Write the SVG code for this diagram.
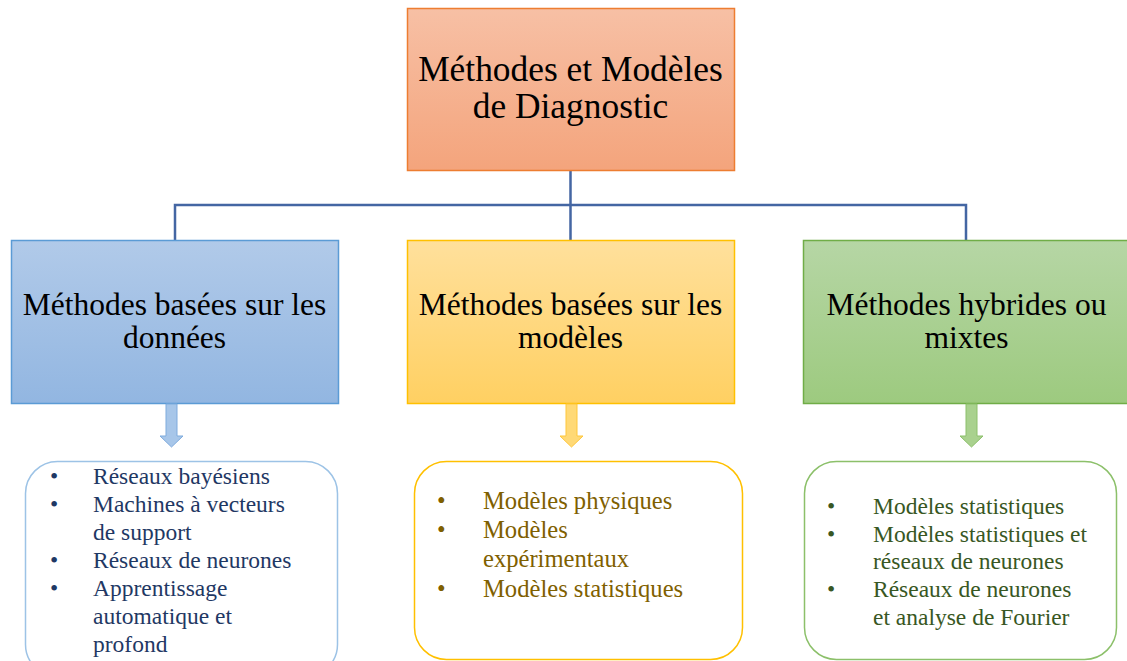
<svg xmlns="http://www.w3.org/2000/svg" width="1127" height="661" viewBox="0 0 1127 661">
<defs>
<linearGradient id="gOr" x1="0" y1="0" x2="0" y2="1"><stop offset="0" stop-color="#f7c0a5"/><stop offset="1" stop-color="#f4a47c"/></linearGradient>
<linearGradient id="gBl" x1="0" y1="0" x2="0" y2="1"><stop offset="0" stop-color="#b1cae9"/><stop offset="1" stop-color="#92b6e1"/></linearGradient>
<linearGradient id="gYe" x1="0" y1="0" x2="0" y2="1"><stop offset="0" stop-color="#ffe09c"/><stop offset="1" stop-color="#ffd062"/></linearGradient>
<linearGradient id="gGr" x1="0" y1="0" x2="0" y2="1"><stop offset="0" stop-color="#b6d6a5"/><stop offset="1" stop-color="#9dca7f"/></linearGradient>
<style>
.t{font-family:"Liberation Serif","Times New Roman",serif;fill:#000;text-anchor:middle}
.h1{font-size:35.4px}
.h2{font-size:31.5px}
.li{font-family:"Liberation Serif","Times New Roman",serif;font-size:23.5px}
.liy{font-family:"Liberation Serif","Times New Roman",serif;font-size:24.6px}
.conn{stroke:#4466a3;stroke-width:2.5;fill:none}
</style>
</defs>
<rect width="1127" height="661" fill="#fff"/>
<g id="connectors">
<path class="conn" d="M570.5,171 V240 M175,240 V205 H966 V240"/>
</g>
<g id="root">
<rect x="407.5" y="8.5" width="327" height="162" fill="url(#gOr)" stroke="#ed7d31" stroke-width="1.5"/>
<text class="t h1" x="570.5" y="81">Méthodes et Modèles</text>
<text class="t h1" x="570.5" y="118">de Diagnostic</text>
</g>
<g id="donnees">
<rect x="11.5" y="240.5" width="327" height="163" fill="url(#gBl)" stroke="#5b9bd5" stroke-width="1.5"/>
<text class="t h2" x="174.5" y="315">Méthodes basées sur les</text>
<text class="t h2" x="174.5" y="348">données</text>
</g>
<g id="modeles">
<rect x="407.5" y="240.5" width="327" height="163" fill="url(#gYe)" stroke="#ffc000" stroke-width="1.5"/>
<text class="t h2" x="570.5" y="315">Méthodes basées sur les</text>
<text class="t h2" x="570.5" y="348">modèles</text>
</g>
<g id="hybrides">
<rect x="803.5" y="240.5" width="330" height="163" fill="url(#gGr)" stroke="#70ad47" stroke-width="1.5"/>
<text class="t h2" x="966.5" y="315">Méthodes hybrides ou</text>
<text class="t h2" x="966.5" y="348">mixtes</text>
</g>
<g id="arrow-donnees">
<path d="M166,404 H177 V436 H183 L171.5,447 L160,436 H166 Z" fill="#a7c6e9" stroke="#7fabdd" stroke-width="1"/>
</g>
<g id="arrow-modeles">
<path d="M566,404 H577 V436 H583 L571.5,447 L560,436 H566 Z" fill="#ffd976" stroke="#ffc73a" stroke-width="1"/>
</g>
<g id="arrow-hybrides">
<path d="M966,404 H977 V436 H983 L971.5,447 L960,436 H966 Z" fill="#a9d18e" stroke="#8cc06a" stroke-width="1"/>
</g>
<g id="liste-donnees">
<rect x="25.5" y="461.5" width="312" height="215" rx="32" fill="#fff" stroke="#9dc3e6" stroke-width="1.5"/>
<g class="li" fill="#1f3864">
<text x="50" y="484">•</text><text x="93" y="484">Réseaux bayésiens</text>
<text x="50" y="512">•</text><text x="93" y="512">Machines à vecteurs</text>
<text x="93" y="540">de support</text>
<text x="50" y="568">•</text><text x="93" y="568">Réseaux de neurones</text>
<text x="50" y="596">•</text><text x="93" y="596">Apprentissage</text>
<text x="93" y="624">automatique et</text>
<text x="93" y="652">profond</text>
</g>
</g>
<g id="liste-modeles">
<rect x="414.5" y="461.5" width="328" height="198" rx="32" fill="#fff" stroke="#ffc000" stroke-width="1.5"/>
<g class="liy" fill="#7f6000">
<text x="437" y="509">•</text><text x="483" y="509">Modèles physiques</text>
<text x="437" y="538">•</text><text x="483" y="538">Modèles</text>
<text x="483" y="567">expérimentaux</text>
<text x="437" y="597">•</text><text x="483" y="597">Modèles statistiques</text>
</g>
</g>
<g id="liste-hybrides">
<rect x="804.5" y="461.5" width="312" height="198" rx="32" fill="#fff" stroke="#8cc06a" stroke-width="1.5"/>
<g class="li" fill="#385723">
<text x="827" y="514">•</text><text x="873" y="514">Modèles statistiques</text>
<text x="827" y="542">•</text><text x="873" y="542">Modèles statistiques et</text>
<text x="873" y="569">réseaux de neurones</text>
<text x="827" y="597">•</text><text x="873" y="597">Réseaux de neurones</text>
<text x="873" y="625">et analyse de Fourier</text>
</g>
</g>
</svg>
